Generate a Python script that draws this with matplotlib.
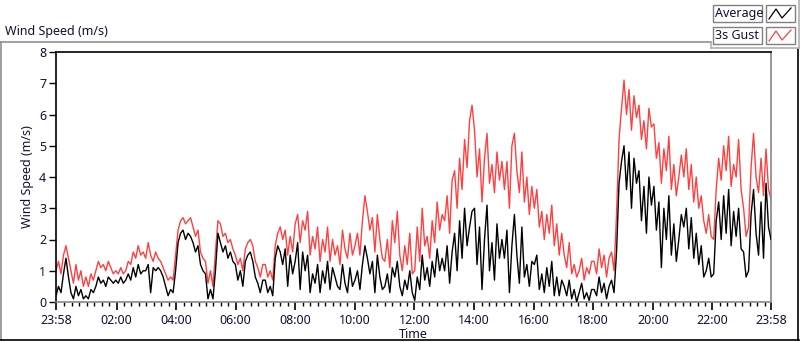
import matplotlib
matplotlib.use("Agg")
import matplotlib.pyplot as plt
from matplotlib.lines import Line2D
from matplotlib.patches import Rectangle
import numpy as np

plt.rcParams['font.family'] = ['Noto Sans', 'DejaVu Sans']

# ---- data: 5-minute samples starting 23:58 ----
gust = [
    1.0,1.3,0.9,1.5,1.8,1.4,1.0,0.6,1.2,0.7,1.0,0.5,
    0.8,0.5,0.9,0.7,1.0,1.3,1.1,1.2,1.0,1.3,1.1,0.9,
    1.0,0.9,1.1,0.9,1.0,1.3,1.2,1.6,1.4,1.8,1.5,1.6,
    1.4,1.9,1.5,1.3,1.6,1.4,1.3,1.1,0.9,0.7,0.8,0.7,
    1.5,2.3,2.6,2.7,2.5,2.6,2.7,2.4,2.1,2.3,1.6,1.4,
    1.3,0.6,1.0,0.5,1.6,2.6,2.5,2.1,2.2,1.9,2.0,1.7,
    1.5,1.2,1.4,1.0,1.7,1.9,2.0,1.8,1.3,1.1,0.8,1.2,
    1.2,0.8,1.0,0.7,1.8,2.2,2.4,2.0,2.3,1.5,2.1,1.6,
    2.5,2.8,1.9,2.6,2.3,2.9,1.5,2.1,1.7,2.4,1.3,2.0,
    1.6,2.4,1.3,2.0,1.5,1.8,1.2,2.3,1.7,1.4,2.2,1.5,
    1.8,2.2,1.5,2.6,3.4,2.9,2.3,2.7,1.6,2.8,2.0,1.4,
    1.3,2.0,1.1,2.6,1.9,2.9,1.5,1.0,1.8,1.2,2.2,0.9,
    1.0,2.4,1.3,3.0,1.8,2.1,1.4,2.6,1.9,3.2,2.3,2.8,
    2.6,3.4,2.2,3.9,4.2,3.0,4.6,3.6,5.2,4.3,5.8,6.3,
    5.5,4.0,4.9,3.2,4.6,5.4,3.8,4.4,3.5,4.8,3.9,4.5,
    3.6,4.5,3.0,5.0,5.4,4.2,3.5,4.8,3.2,4.0,2.8,3.7,
    3.0,3.6,2.4,2.9,2.0,2.8,2.2,3.1,1.8,2.5,1.5,2.2,
    1.5,1.1,1.9,0.9,1.2,0.8,1.0,1.4,0.7,1.1,0.9,1.3,
    1.3,0.9,1.7,1.1,1.5,0.8,1.4,1.6,1.0,2.8,5.2,6.2,
    7.1,6.0,6.8,5.5,6.6,5.9,6.3,5.2,5.8,4.9,6.2,5.6,
    5.7,4.6,5.1,3.8,4.9,4.2,5.3,3.6,4.4,3.4,4.0,4.7,
    4.0,4.9,3.6,4.4,3.2,4.0,3.0,3.4,2.6,2.2,2.8,2.1,
    2.0,3.6,4.6,3.9,5.0,4.2,5.3,3.7,4.4,4.0,5.2,3.6,
    3.0,2.1,2.4,4.3,5.4,4.0,3.5,4.6,3.4,4.9,3.6,3.3,
]
average = [
    0.2,0.5,0.3,0.9,1.4,0.8,0.3,0.1,0.5,0.2,0.4,0.1,
    0.2,0.1,0.4,0.3,0.5,0.8,0.6,0.7,0.5,0.8,0.7,0.6,
    0.7,0.6,0.8,0.6,0.7,0.9,0.7,1.1,0.8,1.2,0.9,1.0,
    1.0,1.2,0.3,1.1,1.0,1.1,1.0,0.8,0.5,0.2,0.4,0.3,
    1.0,1.9,2.2,2.3,2.0,2.2,2.1,1.9,1.6,1.8,1.2,1.0,
    0.9,0.1,0.4,0.1,1.0,2.2,1.9,1.6,1.8,1.4,1.6,1.3,
    1.2,0.7,1.0,0.5,1.3,1.5,1.6,1.3,0.8,0.6,0.3,0.7,
    0.7,0.3,0.5,0.2,1.4,1.8,1.6,1.2,1.7,0.5,1.5,0.9,
    1.3,1.9,0.4,1.6,1.0,1.5,0.3,0.9,0.6,1.2,0.3,1.0,
    0.6,1.3,0.4,1.1,0.8,0.5,0.4,1.2,0.6,0.3,1.1,0.5,
    0.7,1.0,0.4,1.2,1.8,1.4,0.9,1.3,0.3,1.5,0.8,0.4,
    0.5,0.9,0.3,1.1,0.8,1.3,0.5,0.2,0.7,0.4,1.0,0.3,
    0.05,0.8,0.4,1.5,0.7,1.1,0.5,1.3,0.8,1.7,1.0,1.4,
    1.0,1.8,0.6,1.6,2.2,1.0,2.6,1.4,3.0,1.8,2.4,2.9,
    3.0,1.2,2.4,0.4,2.0,3.1,1.0,1.9,0.7,2.5,1.4,2.0,
    1.4,2.3,0.3,1.8,2.8,1.5,0.6,2.4,0.8,1.2,0.5,1.3,
    1.2,1.5,0.4,0.9,0.3,1.1,0.5,1.3,0.2,0.8,0.2,0.7,
    0.5,0.2,0.7,0.1,0.4,0.0,0.3,0.6,0.1,0.3,0.05,0.4,
    0.4,0.2,0.8,0.3,0.6,0.1,0.5,0.7,0.3,1.6,3.8,4.5,
    5.0,3.6,4.8,3.0,4.6,3.8,4.2,2.6,3.7,2.2,4.0,3.1,
    3.7,2.3,3.2,1.1,3.0,2.0,3.4,1.5,2.5,1.3,2.0,2.8,
    2.4,3.0,1.7,2.7,1.4,2.2,1.2,1.8,0.8,1.0,1.4,0.8,
    0.9,2.6,3.2,2.0,3.4,2.2,3.6,1.8,2.9,2.1,3.0,1.7,
    1.6,0.8,1.0,2.8,3.6,2.2,1.5,3.2,1.4,3.8,2.4,2.0,
]
sample_step_min = 5
span_min = 1440
tick_minutes = [0, 122, 242, 362, 482, 602, 722, 842, 962, 1082, 1202, 1322, 1440]
tick_labels = ["23:58", "02:00", "04:00", "06:00", "08:00", "10:00", "12:00",
               "14:00", "16:00", "18:00", "20:00", "22:00", "23:58"]
y_ticks = [0, 1, 2, 3, 4, 5, 6, 7, 8]

minutes = np.arange(len(gust)) * sample_step_min
minutes = minutes * (span_min / minutes[-1])

W, H = 800, 342
fig = plt.figure(figsize=(W / 100, H / 100), dpi=100)
fig.patch.set_facecolor('white')
TXT = '#10103a'
FS = 9

def fx(px): return px / W
def fy(py): return 1 - py / H

ax = fig.add_axes([fx(56), fy(302), fx(771) - fx(56), fy(52) - fy(302)])
ax.plot(minutes, gust, color='#ff4040', lw=1.0, zorder=2)
ax.plot(minutes, average, color='black', lw=1.0, zorder=3)
ax.set_xlim(0, span_min)
ax.set_ylim(0, 8)
ax.set_xticks(tick_minutes)
ax.set_xticklabels(tick_labels)
ax.set_xticks([m for m in range(17, 1440, 15)], minor=True)
ax.set_yticks(y_ticks)
ax.tick_params(axis='both', direction='out', colors='black', labelsize=FS, labelcolor=TXT)
ax.tick_params(axis='x', which='major', length=6, width=1.2, pad=3)
ax.tick_params(axis='x', which='minor', length=3, width=1)
ax.tick_params(axis='y', which='major', length=5, width=1, pad=2)
for s in ['left', 'top']:
    ax.spines[s].set_color('black')
    ax.spines[s].set_linewidth(1.2)
for s in ['right', 'bottom']:
    ax.spines[s].set_color('#888888')
    ax.spines[s].set_linewidth(1.2)
ax.set_xlabel("Time", fontsize=FS, color=TXT, labelpad=0)
ax.set_ylabel("Wind Speed (m/s)", fontsize=FS, color=TXT, labelpad=4)

# title
fig.text(fx(5), fy(31), "Wind Speed (m/s)", fontsize=FS, color=TXT, va='center', ha='left')

# outer frame
def hline(x0, x1, y, c, lw=1.2):
    fig.add_artist(Line2D([fx(x0), fx(x1)], [fy(y), fy(y)], color=c, lw=lw))
def vline(x, y0, y1, c, lw=1.2):
    fig.add_artist(Line2D([fx(x), fx(x)], [fy(y0), fy(y1)], color=c, lw=lw))

hline(0, 711, 42, '#909090')
vline(0.6, 42, 340, '#909090')
hline(0, 799, 340, 'black')
vline(798, 49, 340, 'black')
hline(711, 799, 48, '#b0b0b0')
vline(711, 42, 48, '#b0b0b0')
vline(798.5, 0, 48, '#b0b0b0')

# legend
for i, (lab, col) in enumerate([("Average", 'black'), ("3s Gust", '#ff4040')]):
    top = 5 + i * 22
    fig.add_artist(Rectangle((fx(713), fy(top + 17)), fx(49), fy(top) - fy(top + 17),
                             facecolor='white', edgecolor='#808080', lw=1))
    fig.text(fx(715), fy(top + 8.5), lab, fontsize=FS, color=TXT, va='center', ha='left')
    fig.add_artist(Rectangle((fx(766), fy(top + 17)), fx(29), fy(top) - fy(top + 17),
                             facecolor='white', edgecolor='#808080', lw=1))
    zx = [769, 776, 782, 791]
    zy = [top + 14, top + 4, top + 13, top + 3]
    fig.add_artist(Line2D([fx(v) for v in zx], [fy(v) for v in zy], color=col, lw=0.9))

fig.savefig("out.png", dpi=100)
